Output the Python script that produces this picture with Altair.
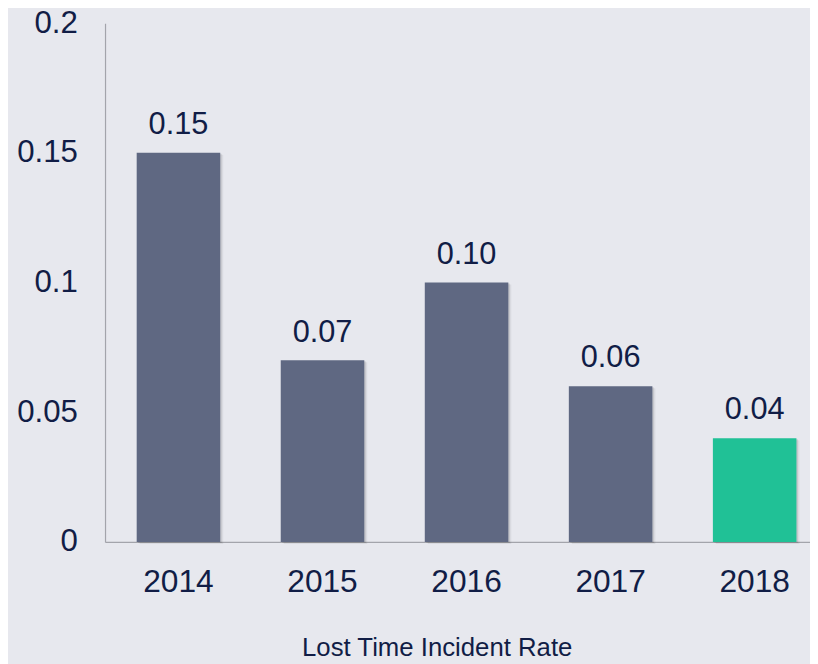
import altair as alt
import pandas as pd

years = ["2014", "2015", "2016", "2017", "2018"]
rates = [0.15, 0.07, 0.10, 0.06, 0.04]
bar_colors = ["#5f6882", "#5f6882", "#5f6882", "#5f6882", "#20c196"]
y_ticks = [0, 0.05, 0.1, 0.15, 0.2]

df = pd.DataFrame({"year": years, "rate": rates, "color": bar_colors})

TEXT = "#111d46"
FONT = "Liberation Sans"
BG = "#e7e8ee"

x_enc = alt.X(
    "year:N",
    sort=years,
    title="Lost Time Incident Rate",
    scale=alt.Scale(paddingInner=0.42, paddingOuter=0.157, align=0.70),
    axis=alt.Axis(
        labelAngle=0, labelFontSize=32, labelColor=TEXT, labelFont=FONT,
        labelPadding=25, ticks=False, domainColor="#a3a4ab", domainWidth=1.2,
        titleFontSize=26, titleFont=FONT, titleFontWeight="normal", titleColor=TEXT,
        titleX=335, titleY=115, titleAlign="center", titleBaseline="alphabetic",
    ),
)
y_enc = alt.Y(
    "rate:Q",
    scale=alt.Scale(domain=[0, 0.2], nice=False),
    axis=alt.Axis(
        values=y_ticks, grid=False, ticks=False, title=None, format="~g",
        labelFontSize=31.5, labelColor=TEXT, labelFont=FONT, labelPadding=28,
        domainColor="#a3a4ab", domainWidth=1.2,
    ),
)

base = alt.Chart(df)

shadow1 = base.mark_bar(color="#000000", opacity=0.06, xOffset=3, yOffset=2).encode(x=x_enc, y=y_enc)
shadow2 = base.mark_bar(color="#000000", opacity=0.10, xOffset=1.5, yOffset=1).encode(x=x_enc, y=y_enc)
bars = base.mark_bar().encode(x=x_enc, y=y_enc, color=alt.Color("color:N", scale=None))
labels = base.mark_text(dy=-19, baseline="alphabetic", fontSize=31, color=TEXT, font=FONT).encode(
    x=x_enc, y=y_enc, text=alt.Text("rate:Q", format=".2f")
)

chart = (
    alt.layer(shadow1, shadow2, bars, labels)
    .properties(
        width=712, height=524,
        autosize=alt.AutoSizeParams(type="none"),
        padding={"left": 98, "top": 12, "right": 0, "bottom": 122},
        background=BG,
    )
    .configure_view(strokeWidth=0)
)

chart.save("out.html", embed_options={"renderer": "svg", "actions": False})
